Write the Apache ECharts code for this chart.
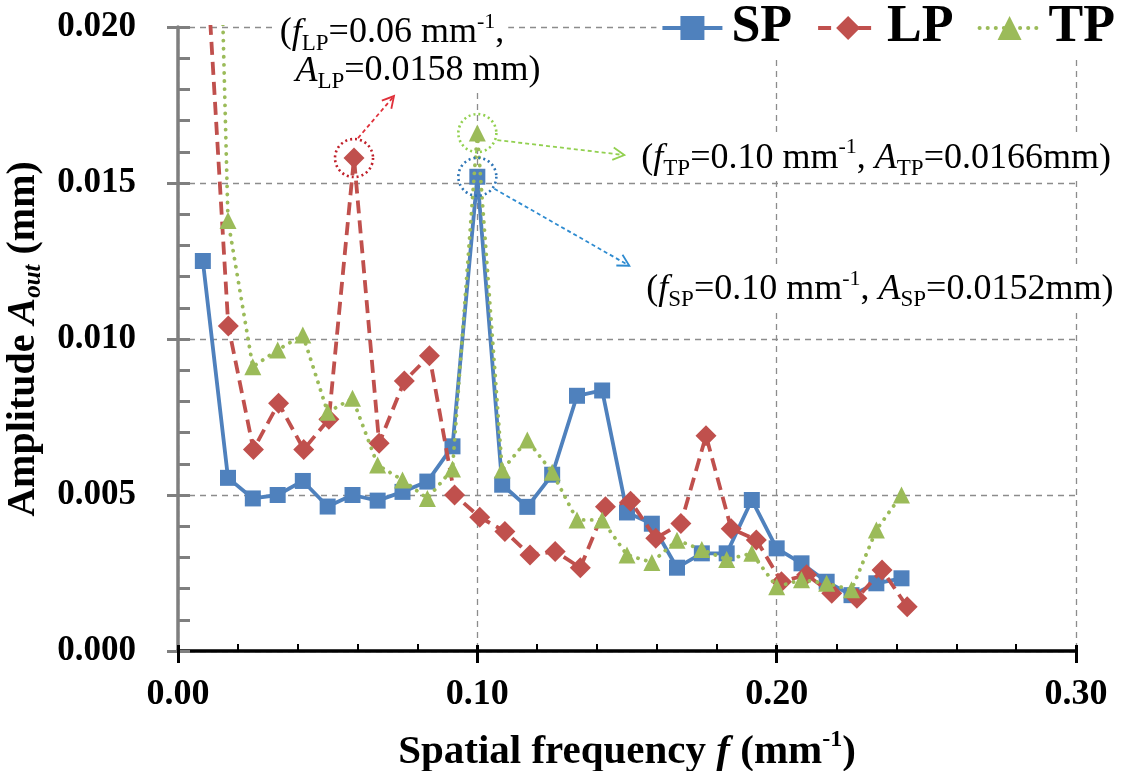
<!DOCTYPE html>
<html><head><meta charset="utf-8">
<script src="https://cdn.jsdelivr.net/npm/echarts@6/dist/echarts.min.js"></script>
<style>html,body{margin:0;padding:0;background:#fff}#c{width:1129px;height:771px}</style>
</head><body><div id="c"></div>
<script>
// ---- data (spatial frequency in mm^-1, amplitude in mm) ----
const spFreq = [0.0083,0.0167,0.0250,0.0333,0.0417,0.0500,0.0583,0.0667,0.0750,0.0833,0.0917,0.1000,0.1083,0.1167,0.1250,0.1333,0.1417,0.1500,0.1583,0.1667,0.1750,0.1833,0.1917,0.2000,0.2083,0.2167,0.2250,0.2333,0.2417];
const spAmp  = [0.0125,0.00555,0.00489,0.0050,0.00545,0.00463,0.0050,0.00482,0.0051,0.00543,0.00656,0.0152,0.00533,0.00462,0.00565,0.00818,0.00835,0.00444,0.00408,0.00267,0.00313,0.00313,0.00484,0.00329,0.00281,0.00222,0.00179,0.00217,0.00233];
const lpFreq = [0.0084,0.0168,0.0252,0.0336,0.0420,0.0504,0.0588,0.0672,0.0756,0.0840,0.0924,0.1008,0.1092,0.1176,0.1260,0.1344,0.1428,0.1512,0.1596,0.1680,0.1764,0.1848,0.1932,0.2016,0.2100,0.2184,0.2268,0.2352,0.2436];
const lpAmp  = [0.0240,0.01042,0.00646,0.00794,0.00646,0.00743,0.0158,0.00666,0.00865,0.00946,0.0050,0.00429,0.00383,0.00308,0.00319,0.00267,0.00462,0.0048,0.00361,0.00409,0.0069,0.00392,0.00356,0.00222,0.00244,0.00185,0.00169,0.0026,0.00142];
const tpFreq = [0.0083,0.0167,0.0250,0.0333,0.0417,0.0500,0.0583,0.0667,0.0750,0.0833,0.0917,0.1000,0.1083,0.1167,0.1250,0.1333,0.1417,0.1500,0.1583,0.1667,0.1750,0.1833,0.1917,0.2000,0.2083,0.2167,0.2250,0.2333,0.2417];
const tpAmp  = [0.045,0.0138,0.00911,0.00965,0.01013,0.00765,0.0081,0.00596,0.00548,0.00489,0.00583,0.0166,0.0058,0.00676,0.00573,0.0042,0.0042,0.00308,0.00284,0.00355,0.00325,0.00293,0.00313,0.00206,0.00228,0.00217,0.00196,0.00388,0.0050];
const seriesNames = ['SP','LP','TP'];
const xTickLabels = ['0.00','0.10','0.20','0.30'];
const yTickLabels = ['0.000','0.005','0.010','0.015','0.020'];

const FONT = '"Liberation Serif","Times New Roman",serif';
const pairs = (xs, ys) => xs.map((x, i) => [x, ys[i]]);

const gridLine = {show:true, lineStyle:{color:'#8c8c8c', width:1.3, type:[6,5]}};
const option = {
  animation:false,
  backgroundColor:'#fff',
  grid:{left:178, right:53, top:27, bottom:120, containLabel:false, outerBoundsMode:'none'},
  legend:{
    data:seriesNames, right:10, top:-2, itemWidth:60, itemHeight:30, itemGap:24,
    backgroundColor:'#fff', padding:[4,4,4,4],
    lineStyle:{width:4},
    textStyle:{fontFamily:FONT, fontWeight:'bold', fontSize:52, color:'#000', padding:[0,0,0,4]}
  },
  xAxis:[{
    type:'value', min:0, max:0.3, interval:0.1, position:'bottom',
    axisLine:{show:true, onZero:false, lineStyle:{color:'#000', width:3.5}},
    axisTick:{show:true, inside:true, length:6, lineStyle:{color:'#000', width:3}},
    minorTick:{show:true, splitNumber:5, length:7, lineStyle:{color:'#000', width:2}},
    axisLabel:{show:false},
    splitLine:gridLine
  },{
    type:'value', min:0, max:0.3, interval:0.1, position:'bottom',
    axisLine:{show:false},
    axisTick:{show:true, inside:false, length:12, lineStyle:{color:'#000', width:3}},
    axisLabel:{show:true, margin:26, fontFamily:FONT, fontWeight:'bold', fontSize:36, color:'#000',
      formatter:(v)=>xTickLabels[Math.round(v/0.1)]},
    splitLine:{show:false},
    name:'Spatial frequency {i|f} (mm{sup|-1})', nameLocation:'middle', nameGap:77,
    nameTextStyle:{fontFamily:FONT, fontWeight:'bold', fontSize:41, color:'#000', lineHeight:48,
      rich:{i:{fontFamily:FONT, fontWeight:'bold', fontStyle:'italic', fontSize:41, lineHeight:48},
            sup:{fontFamily:FONT, fontWeight:'bold', fontSize:24, lineHeight:30, verticalAlign:'top'}}}
  }],
  yAxis:[{
    type:'value', min:0, max:0.02, interval:0.005, position:'left',
    axisLine:{show:true, onZero:false, lineStyle:{color:'#7f7f7f', width:3.5}},
    axisTick:{show:true, inside:true, length:12, lineStyle:{color:'#7f7f7f', width:3}},
    minorTick:{show:true, splitNumber:5, length:12, lineStyle:{color:'#7f7f7f', width:3}},
    axisLabel:{show:false},
    splitLine:gridLine
  },{
    type:'value', min:0, max:0.02, interval:0.005, position:'left',
    axisLine:{show:false},
    axisTick:{show:true, inside:false, length:11, lineStyle:{color:'#7f7f7f', width:3}},
    axisLabel:{show:true, margin:42, fontFamily:FONT, fontWeight:'bold', fontSize:35, color:'#000',
      formatter:(v)=>yTickLabels[Math.round(v/0.005)]},
    splitLine:{show:false},
    name:'Amplitude {i|A}{sub|out} (mm)', nameLocation:'middle', nameGap:115, nameRotate:90,
    nameTextStyle:{fontFamily:FONT, fontWeight:'bold', fontSize:40, color:'#000', lineHeight:46,
      rich:{i:{fontFamily:FONT, fontWeight:'bold', fontStyle:'italic', fontSize:40, lineHeight:46},
            sub:{fontFamily:FONT, fontWeight:'bold', fontStyle:'italic', fontSize:25, lineHeight:26, verticalAlign:'bottom'}}}
  }],
  series:[
    {name:'SP', type:'line', data:pairs(spFreq, spAmp), symbol:'rect', symbolSize:16,
     itemStyle:{color:'#4F81BD'}, lineStyle:{color:'#4F81BD', width:3.8}, z:3},
    {name:'LP', type:'line', data:pairs(lpFreq, lpAmp), symbol:'diamond', symbolSize:21,
     itemStyle:{color:'#C0504D'}, lineStyle:{color:'#C0504D', width:3.8, type:[13,7]}, z:4},
    {name:'TP', type:'line', data:pairs(tpFreq, tpAmp), symbol:'triangle', symbolSize:17,
     itemStyle:{color:'#9BBB59'}, lineStyle:{color:'#9BBB59', width:3.8, type:[0.1,8], cap:'round'}, z:5}
  ]
};
const chart = echarts.init(document.getElementById('c'));
chart.setOption(option);

// ---- annotations anchored to the peak data points ----
function px(f, a){ return chart.convertToPixel({xAxisIndex:0, yAxisIndex:0}, [f, a]); }
function arrow(p, d1, d2, color){
  const x1=p[0]+d1[0], y1=p[1]+d1[1], x2=p[0]+d2[0], y2=p[1]+d2[1];
  const ang=Math.atan2(y2-y1, x2-x1), L=13, w=0.5;
  const h1=[x2-L*Math.cos(ang-w), y2-L*Math.sin(ang-w)];
  const h2=[x2-L*Math.cos(ang+w), y2-L*Math.sin(ang+w)];
  return [
    {type:'line', shape:{x1, y1, x2, y2}, style:{stroke:color, lineWidth:1.8, lineDash:[4,3]}, z:20},
    {type:'polyline', shape:{points:[h1,[x2,y2],h2]}, style:{stroke:color, lineWidth:1.8, fill:null}, z:20}
  ];
}
function circle(p, color){
  return {type:'circle', shape:{cx:p[0], cy:p[1], r:19}, style:{fill:null, stroke:color, lineWidth:2.6, lineDash:[2,3]}, z:20};
}
const annRich = {
  i:{fontFamily:FONT, fontStyle:'italic', fontSize:36, lineHeight:44},
  sub:{fontFamily:FONT, fontSize:23, lineHeight:22, verticalAlign:'bottom'},
  sup:{fontFamily:FONT, fontSize:22, lineHeight:24, verticalAlign:'top'}
};
function label(p, d, text, align, z){
  return {type:'text', x:p[0]+d[0], y:p[1]+d[1], z:z,
    style:{text, rich:annRich, fontFamily:FONT, fontSize:36, lineHeight:44, fill:'#000',
      align:align, verticalAlign:'middle', backgroundColor:'#fff', padding:[0,4,0,4]}};
}
const lpPk = px(lpFreq[6], lpAmp[6]);
const tpPk = px(tpFreq[11], tpAmp[11]);
const spPk = px(spFreq[11], spAmp[11]);
const g = [];
g.push(circle(lpPk, '#C0202A'), circle(tpPk, '#92D050'), circle(spPk, '#2E75B6'));
g.push(...arrow(lpPk, [4,-20], [40,-62], '#E0303A'));
g.push(...arrow(tpPk, [20,7], [147,22], '#92D050'));
g.push(...arrow(spPk, [17,12], [152,89], '#2E8BD0'));
g.push(label(lpPk, [64,-87], '{i|A}{sub|LP}=0.0158 mm)', 'center', 18));
g.push(label(lpPk, [38,-125], '({i|f}{sub|LP}=0.06 mm{sup|-1},', 'center', 19));
g.push(label(tpPk, [160,25], '({i|f}{sub|TP}=0.10 mm{sup|-1}, {i|A}{sub|TP}=0.0166mm)', 'left', 19));
g.push(label(spPk, [165,113], '({i|f}{sub|SP}=0.10 mm{sup|-1}, {i|A}{sub|SP}=0.0152mm)', 'left', 19));
chart.setOption({graphic:{elements:g}});
</script></body></html>
